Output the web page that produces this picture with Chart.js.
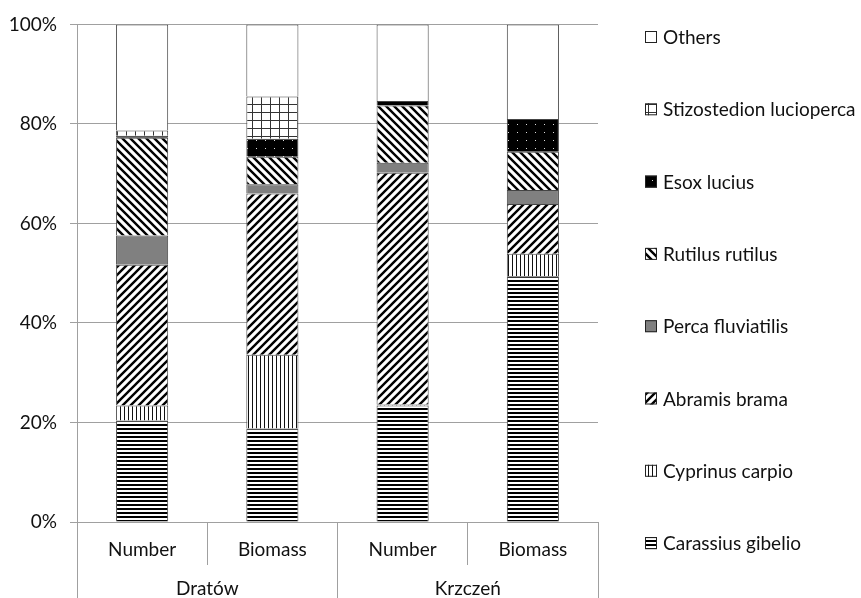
<!DOCTYPE html>
<html>
<head>
<meta charset="utf-8">
<script src="https://cdn.jsdelivr.net/npm/chart.js@4/dist/chart.umd.min.js"></script>
<style>
  html, body { margin: 0; padding: 0; background: #fff; }
  #wrap { width: 861px; height: 598px; }
</style>
</head>
<body>
<div id="wrap"><canvas id="fishChart"></canvas></div>
<script>
// categories and groups
const categories = ['Number', 'Biomass', 'Number', 'Biomass'];
const sites = ['Dratów', 'Krzczeń'];
const yTicks = [0, 20, 40, 60, 80, 100];

// share of each species (%), order: Dratów Number, Dratów Biomass, Krzczeń Number, Krzczeń Biomass
const carassius = [20.4, 18.8, 23.4, 49.4];
const cyprinus = [3.0, 14.8, 0.2, 4.5];
const abramis = [28.3, 32.4, 46.6, 10.0];
const perca = [5.9, 1.9, 2.0, 2.8];
const rutilus = [19.6, 5.5, 11.5, 7.7];
const esox = [0.4, 3.6, 0.9, 6.6];
const stizostedion = [1.1, 8.5, 0, 0];
const others = [21.3, 14.5, 15.4, 19.0];

const FONT = 'Lato';
const TEXT = '#111';
const GRID = '#a0a0a0';

// small black & white fills like the Excel pattern fills
function pattern(kind) {
  const c = document.createElement('canvas');
  const g = c.getContext('2d');
  if (kind === 'hlines') {
    c.width = 4; c.height = 4;
    g.fillStyle = '#fff'; g.fillRect(0, 0, 4, 4);
    g.fillStyle = '#000'; g.fillRect(0, 0, 4, 2);
  } else if (kind === 'vlines') {
    c.width = 4; c.height = 4;
    g.fillStyle = '#fff'; g.fillRect(0, 0, 4, 4);
    g.fillStyle = '#111'; g.fillRect(0, 0, 1, 4);
  } else if (kind === 'up' || kind === 'down') {
    c.width = 8; c.height = 8;
    g.fillStyle = '#fff'; g.fillRect(0, 0, 8, 8);
    g.strokeStyle = '#000'; g.lineWidth = 2.4;
    g.beginPath();
    if (kind === 'up') {
      g.moveTo(0, 8); g.lineTo(8, 0);
      g.moveTo(-2, 2); g.lineTo(2, -2);
      g.moveTo(6, 10); g.lineTo(10, 6);
    } else {
      g.moveTo(0, 0); g.lineTo(8, 8);
      g.moveTo(-2, 6); g.lineTo(2, 10);
      g.moveTo(6, -2); g.lineTo(10, 2);
    }
    g.stroke();
  } else if (kind === 'dots') {
    c.width = 9; c.height = 8;
    g.fillStyle = '#000'; g.fillRect(0, 0, 9, 8);
    g.fillStyle = '#ddd'; g.fillRect(4, 4, 1, 1);
  } else if (kind === 'grid') {
    c.width = 9; c.height = 8;
    g.fillStyle = '#fff'; g.fillRect(0, 0, 9, 8);
    g.fillStyle = '#333'; g.fillRect(0, 0, 9, 1); g.fillRect(0, 0, 1, 8);
  }
  return g.createPattern(c, 'repeat');
}

const series = [
  { label: 'Carassius gibelio', data: carassius, fill: pattern('hlines') },
  { label: 'Cyprinus carpio', data: cyprinus, fill: pattern('vlines') },
  { label: 'Abramis brama', data: abramis, fill: pattern('up') },
  { label: 'Perca fluviatilis', data: perca, fill: '#808080' },
  { label: 'Rutilus rutilus', data: rutilus, fill: pattern('down') },
  { label: 'Esox lucius', data: esox, fill: pattern('dots') },
  { label: 'Stizostedion lucioperca', data: stizostedion, fill: pattern('grid') },
  { label: 'Others', data: others, fill: '#fff' }
];

// legend drawn at the right, top item = last series
const sideLegend = {
  id: 'sideLegend',
  afterDraw(chart, args, opts) {
    const { ctx, chartArea } = chart;
    const sets = chart.data.datasets.slice().reverse();
    const x = chartArea.right + opts.gap;
    ctx.save();
    ctx.font = opts.size + 'px ' + FONT;
    ctx.textBaseline = 'middle';
    sets.forEach((ds, i) => {
      const y = opts.top + i * opts.step;
      ctx.fillStyle = ds.backgroundColor;
      ctx.fillRect(x, y - 6, 12, 12);
      ctx.strokeStyle = '#222';
      ctx.lineWidth = 1;
      ctx.strokeRect(x + 0.5, y - 5.5, 11, 11);
      ctx.fillStyle = TEXT;
      ctx.fillText(ds.label, x + 18, y + 1);
    });
    ctx.restore();
  }
};

const ctx = document.getElementById('fishChart').getContext('2d');

const chart = new Chart(ctx, {
  type: 'bar',
  data: {
    labels: categories,
    datasets: series.map(s => ({
      label: s.label,
      data: s.data,
      backgroundColor: s.fill,
      borderColor: '#444',
      borderWidth: 1,
      categoryPercentage: 1,
      barPercentage: 0.4
    }))
  },
  options: {
    responsive: true,
    maintainAspectRatio: false,
    animation: false,
    layout: { padding: { left: 9, top: 18, right: 263, bottom: 0 } },
    plugins: {
      legend: { display: false },
      tooltip: { enabled: false },
      sideLegend: { gap: 47, top: 37, step: 72.3, size: 19 }
    },
    scales: {
      x: {
        stacked: true,
        weight: 0,
        grid: { offset: true, drawOnChartArea: false, tickLength: 43, color: GRID },
        border: { color: GRID },
        ticks: { padding: -27, color: TEXT, font: { family: FONT, size: 19 } },
        afterFit(scale) { scale.height = 43; }
      },
      x2: {
        type: 'category',
        labels: sites,
        position: 'bottom',
        offset: true,
        weight: 1,
        grid: { offset: true, drawOnChartArea: false, tickLength: 33, color: GRID },
        border: { display: false },
        ticks: { padding: -21, color: TEXT, font: { family: FONT, size: 19 } },
        afterFit(scale) { scale.height = 33; }
      },
      y: {
        stacked: true,
        min: yTicks[0],
        max: yTicks[yTicks.length - 1],
        afterBuildTicks(scale) { scale.ticks = yTicks.map(v => ({ value: v })); },
        afterFit(scale) { scale.width = 68; },
        grid: { color: GRID, tickLength: 7 },
        border: { color: GRID },
        ticks: { padding: 13, color: TEXT, font: { family: FONT, size: 19 }, callback: v => v + '%' }
      }
    }
  },
  plugins: [sideLegend]
});
</script>
</body>
</html>
